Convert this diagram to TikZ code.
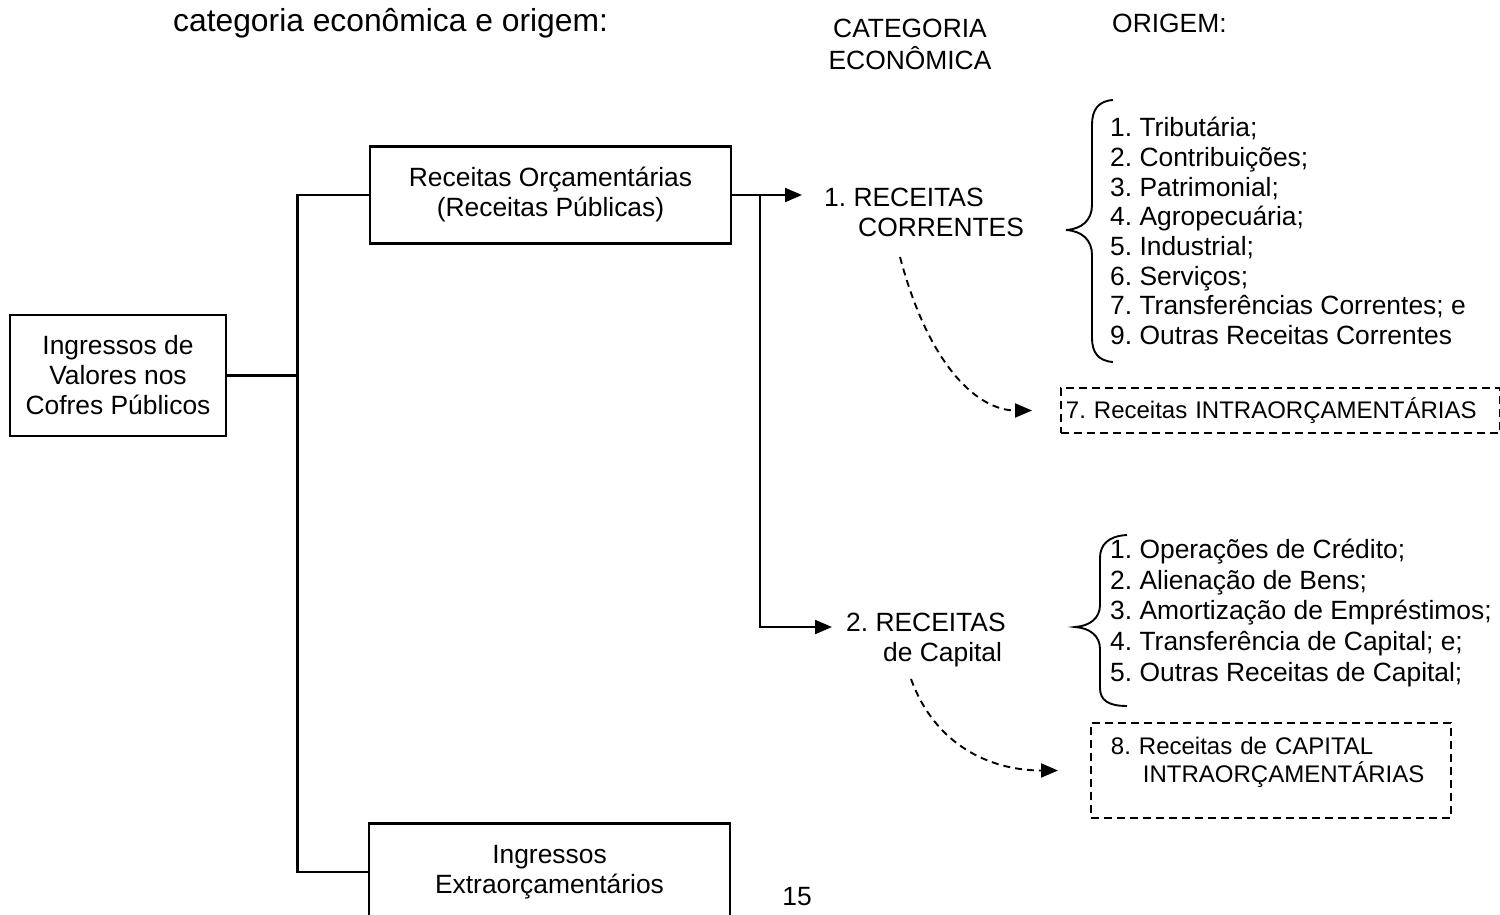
\documentclass[tikz,border=0pt]{standalone}
\usepackage{fontspec}
\setmainfont{Liberation Sans}
\usetikzlibrary{arrows.meta}
\frenchspacing

\begin{document}
\begin{tikzpicture}[x=1pt,y=-1pt]
	\tikzstyle{every node}+=[inner sep=0pt, font=\fontsize{26.4}{30}\selectfont]
	\tikzstyle{caixa}=[draw, line width=2.2pt, align=center]
	\tikzstyle{tracejada}=[draw, line width=1.9pt, dash pattern=on 8pt off 5pt, align=left, font=\fontsize{24}{28.5}\selectfont]
	\tikzstyle{seta}=[line width=2.2pt, -{Triangle[length=17pt,width=14pt]}]
	\tikzstyle{setatrac}=[line width=1.9pt, dash pattern=on 7pt off 5pt, -{Triangle[length=17pt,width=14pt]}]
	\useasboundingbox (0,0) rectangle (1500,915);
	\clip (0,0) rectangle (1500,915);
	% titulos
	\node[anchor=base west, font=\fontsize{31.8}{36}\selectfont] (titulo) at (173,32) {categoria econômica e origem:};
	\node[align=center, font=\fontsize{26.4}{32}\selectfont] (catec) at (910,44) {CATEGORIA\\ECONÔMICA};
	\node[anchor=base west] (origem) at (1112,33) {ORIGEM:};
	% caixas
	\node[caixa, minimum width=216, minimum height=121] (ingressos) at (118,375.5) {Ingressos de\\Valores nos\\Cofres Públicos};
	\node[caixa, minimum width=361, minimum height=97] (orcam) at (550.5,195) {Receitas Orçamentárias\\(Receitas Públicas)};
	\node[caixa, minimum width=361, minimum height=97] (extra) at (549.5,872) {Ingressos\\Extraorçamentários};
	\node (pagina) at (797,897) {15};
	% categorias
	\node[anchor=west, align=left] (correntes) at (824,212) {1. RECEITAS\\\hspace*{34pt}CORRENTES};
	\node[anchor=west, align=left] (capital) at (846,640) {2. RECEITAS\\\hspace*{37pt}de Capital};
	% origens
	\node[anchor=west, align=left, font=\fontsize{26.4}{29.7}\selectfont] (origcorr) at (1110,231) {1. Tributária;\\2. Contribuições;\\3. Patrimonial;\\4. Agropecuária;\\5. Industrial;\\6. Serviços;\\7. Transferências Correntes; e\\9. Outras Receitas Correntes};
	\node[anchor=west, align=left, font=\fontsize{26.4}{30.75}\selectfont] (origcap) at (1110,613) {1. Operações de Crédito;\\2. Alienação de Bens;\\3. Amortização de Empréstimos;\\4. Transferência de Capital; e;\\5. Outras Receitas de Capital;};
	\node[tracejada, anchor=west, text width=429, inner xsep=5, minimum height=45] (intra1) at (1060,410.5) {7. Receitas INTRAORÇAMENTÁRIAS};
	\node[tracejada, anchor=west, text width=320, inner xsep=20, minimum height=95] (intra2) at (1090,770.5) {8. Receitas de CAPITAL\\\hspace*{32pt}INTRAORÇAMENTÁRIAS\rule[-21pt]{0pt}{1pt}};
	% ligacoes
	\coordinate (tronco) at (297.5,375.5);
	\coordinate (ramo) at (760,195);
	\coordinate (ponta1) at (802,195);
	\coordinate (ponta2) at (832,627);
	\coordinate (ini1) at (900,257);
	\coordinate (ini2) at (911,679);
	\draw[line width=2.2pt] (ingressos.east) -- (tronco);
	\draw[line width=2.2pt] (orcam.west) -| (tronco) |- (extra.west);
	\draw[seta] (orcam.east) -- (ponta1);
	\draw[seta] (ramo) |- (ponta2);
	\draw[setatrac, shorten >=28pt] (ini1) .. controls (930,370) and (980,410.5) .. (intra1.west);
	\draw[setatrac, shorten >=32pt] (ini2) .. controls (935,745) and (990,770.5) .. (intra2.west);
	% chaves
	\draw[line width=1.9pt] (1113,100) .. controls (1098,101) and (1092,110) .. (1092,125) -- (1092,205) .. controls (1092,220) and (1082,229) .. (1066,230) .. controls (1082,231) and (1092,240) .. (1092,255) -- (1092,338) .. controls (1092,352) and (1098,361) .. (1113,362);
	\draw[line width=1.9pt] (1127,535) .. controls (1108,536) and (1100,545) .. (1100,558) -- (1100,605) .. controls (1100,618) and (1090,626) .. (1075,627) .. controls (1090,628) and (1100,636) .. (1100,649) -- (1100,688) .. controls (1100,700) and (1108,706) .. (1127,706);
\end{tikzpicture}
\end{document}
